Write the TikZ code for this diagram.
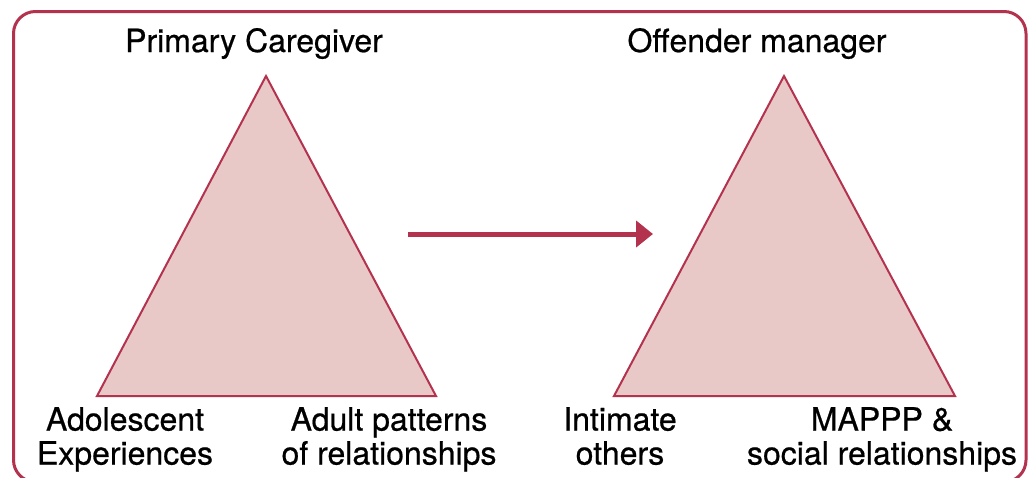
\documentclass[tikz,border=0pt]{standalone}
\usepackage{fontspec}
\setmainfont{TeX Gyre Heros}[FakeBold=0.6]
\definecolor{wine}{HTML}{B3334F}
\definecolor{rosefill}{HTML}{E9C9C8}
\usetikzlibrary{arrows.meta}
\tikzset{
  tri/.style={draw=wine, fill=rosefill, line width=2pt, line join=miter},
  lbl/.style={font=\fontsize{32}{34}\selectfont, align=center, inner sep=0pt, text=black},
  flow/.style={draw=wine, line width=5pt, -{Triangle[length=17pt,width=26pt]}},
}
\begin{document}
\begin{tikzpicture}[x=1pt,y=-1pt]
\useasboundingbox (0,0) rectangle (1028,477);
\draw[wine, line width=3pt, rounded corners=22pt] (13.5,11.5) rectangle (1026,482);
% left triangle
\coordinate (a1) at (266,76);
\coordinate (b1) at (97,396);
\coordinate (c1) at (436,396);
\draw[tri] (a1) -- (b1) -- (c1) -- cycle;
% right triangle
\coordinate (a2) at (784,76);
\coordinate (b2) at (614,396);
\coordinate (c2) at (955,396);
\draw[tri] (a2) -- (b2) -- (c2) -- cycle;
% arrow
\coordinate (s) at (408,234);
\coordinate (e) at (653,234);
\draw[flow] (s) -- (e);
% labels
\node[lbl, anchor=base] (pc) at (254,52) {Primary Caregiver};
\node[lbl, anchor=base] (om) at (757,52) {Offender manager};
\node[lbl, anchor=north] (ae) at (125,407) {Adolescent\\Experiences};
\node[lbl, anchor=north] (ap) at (389,407) {Adult patterns\\of relationships};
\node[lbl, anchor=north] (io) at (620,407) {Intimate\\others};
\node[lbl, anchor=north] (ms) at (882,407) {MAPPP \&\\social relationships};
\end{tikzpicture}
\end{document}
